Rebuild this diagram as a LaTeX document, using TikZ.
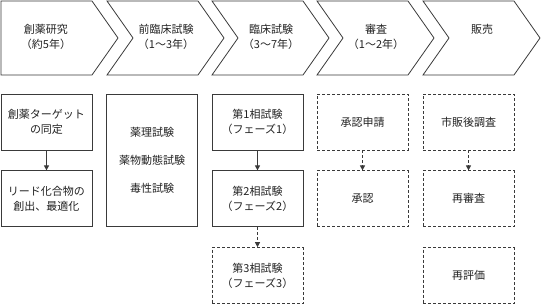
\documentclass[tikz,border=0pt]{standalone}
\usepackage{fontspec}
\setmainfont{Noto Sans CJK JP}
\usetikzlibrary{positioning,arrows.meta}
\definecolor{linegray}{HTML}{3A3A3A}
\definecolor{textgray}{HTML}{222222}

\begin{document}
\begin{tikzpicture}[
    x=1pt, y=-1pt,
    font=\fontsize{11}{15}\selectfont,
    phase/.style={draw=linegray, line width=0.8pt, line join=miter},
    phasetext/.style={anchor=north, align=center, text=textgray, inner sep=0pt},
    box/.style={draw=linegray, line width=0.8pt, rectangle, align=center, text=textgray,
        minimum width=91pt, minimum height=56pt, inner sep=0pt},
    planned/.style={box, dash pattern=on 3pt off 2pt},
    arrow/.style={-{Triangle[length=5pt,width=5pt]}, draw=linegray, line width=0.8pt},
    dasharrow/.style={arrow, dash pattern=on 3pt off 2pt}
]
\useasboundingbox (0,0) rectangle (541,303);

% phases
\draw[phase] (1,1) -- (92,1) -- (118,38) -- (92,75) -- (1,75) -- cycle;
\draw[phase] (107,1) -- (198,1) -- (224,38) -- (198,75) -- (107,75) -- (133,38) -- cycle;
\draw[phase] (212,1) -- (303,1) -- (329,38) -- (303,75) -- (212,75) -- (238,38) -- cycle;
\draw[phase] (317,1) -- (408,1) -- (434,38) -- (408,75) -- (317,75) -- (343,38) -- cycle;
\draw[phase] (423,1) -- (514,1) -- (540,38) -- (514,75) -- (423,75) -- (449,38) -- cycle;

\node[phasetext] (research) at (46,24) {創薬研究\\（約5年）};
\node[phasetext] (preclin) at (166,24) {前臨床試験\\（1～3年）};
\node[phasetext] (clin) at (271,24) {臨床試験\\（3～7年）};
\node[phasetext] (review) at (376,24) {審査\\（1～2年）};
\node[phasetext] (sales) at (482,24) {販売};

% tasks
\node[box] (target) at (46.5,122) {創薬ターゲット\\の同定};
\node[box] (lead) [below=20pt of target] {リード化合物の\\創出、最適化};

\node[box, minimum height=132pt] (tests) at (152,160)
    {薬理試験\\[13pt]薬物動態試験\\[13pt]毒性試験};

\node[box] (phase1) at (257.5,122) {第1相試験\\（フェーズ1）};
\node[box] (phase2) [below=20pt of phase1] {第2相試験\\（フェーズ2）};
\node[planned] (phase3) [below=20pt of phase2] {第3相試験\\（フェーズ3）};

\node[planned] (apply) at (362.5,122) {承認申請};
\node[planned] (approve) [below=20pt of apply] {承認};

\node[planned] (survey) at (468.5,122) {市販後調査};
\node[planned] (reexam) [below=20pt of survey] {再審査};
\node[planned] (reeval) [below=20pt of reexam] {再評価};

\draw[arrow] (target) -- (lead);
\draw[arrow] (phase1) -- (phase2);
\draw[dasharrow] (phase2) -- (phase3);
\draw[dasharrow] (apply) -- (approve);
\draw[dasharrow] (survey) -- (reexam);

\end{tikzpicture}
\end{document}
